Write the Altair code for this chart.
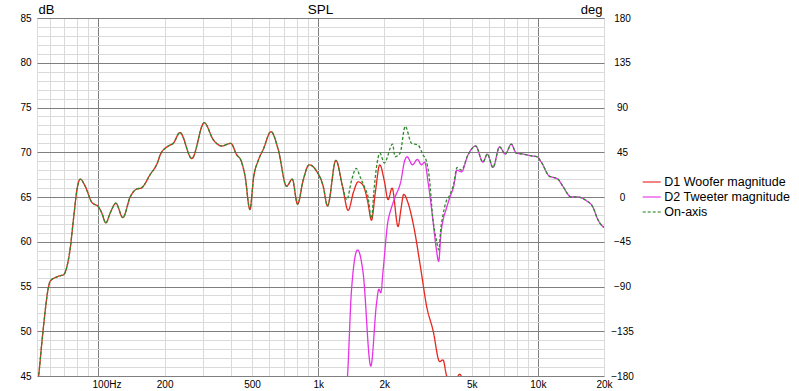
import altair as alt
import pandas as pd

# ---- data (frequency in Hz, level in dB) ----
woofer_freq = [52.5, 53.4, 55.9, 59.3, 60.3, 63.6, 66.9, 69.3, 71.8, 74.4, 77.0, 79.8, 82.6, 87.0,
               93.3, 100, 103.6, 108.0, 113.0, 120.0, 129.1, 139.4, 149.5, 156.4, 171.8, 187.4,
               190.8, 208, 219, 235, 266, 303, 333, 364, 400, 426, 445, 465, 489, 509, 534, 562,
               610, 658, 718, 762, 806, 855, 910, 983, 1054, 1103, 1204, 1290, 1369, 1450, 1520,
               1602, 1680, 1749, 1820, 1908, 2000, 2081, 2170, 2310, 2380, 2452, 2560, 2703, 2951,
               3110, 3333, 3575, 3700, 3834, 4100, 4400, 4700]
woofer_db = [43.5, 45.0, 50.0, 55.0, 55.6, 56.0, 56.2, 56.3, 57.2, 59.3, 62.6, 65.8, 67.0, 66.2,
             64.4, 63.9, 63.2, 62.1, 63.2, 64.3, 62.7, 65.0, 65.9, 66.0, 67.5, 69.1,
             69.7, 70.7, 71.0, 72.2, 69.3, 73.3, 71.4, 70.7, 71.0, 69.7, 69.1, 67.3, 63.6, 67.3, 69.1, 70.3,
             72.3, 70.3, 66.2, 67.0, 64.2, 66.9, 68.6, 67.9, 66.2, 64.0, 69.1, 66.2, 63.5, 65.6, 66.7,
             66.3, 64.5, 62.4, 65.5, 68.6, 66.8, 64.7, 66.0, 61.7, 63.6, 65.3, 64.4, 62.1, 56.5,
             52.9, 50.1, 46.6, 46.8, 45.1, 43.5, 45.2, 43.0]

tweeter_freq = [1330, 1360, 1418, 1511, 1602, 1736, 1843, 1888, 1928, 1975, 2081, 2120, 2232, 2376,
                2479, 2539, 2686, 2830, 2951, 3055, 3162, 3333, 3440, 3537, 3620, 3700, 3820, 3967,
                4139, 4283, 4486, 4807, 5211, 5623, 5888, 6245, 6696, 7108, 7570, 7978, 8548,
                9333, 9897, 10364, 11305, 11703, 12332, 12989, 14185, 15199, 16596, 17783, 18738,
                19750, 20000]
tweeter_db = [42.0, 45.0, 54.6, 59.1, 56.5, 46.1, 53.1, 54.7, 54.3, 56.8, 62.4, 63.2, 64.9, 66.7,
              69.1, 69.5, 68.6, 69.2, 68.6, 68.9, 66.7, 62.3, 59.4, 57.8, 60.9, 62.4, 63.6, 64.9,
              66.2, 68.0, 67.8, 69.7, 70.7, 68.9, 69.8, 68.3, 70.6, 69.8, 70.9, 69.9, 69.8,
              69.6, 69.5, 68.9, 67.3, 67.2, 67.0, 66.2, 65.0, 65.0, 64.6, 63.9, 62.5,
              61.7, 61.6]

onaxis_freq = [1350, 1420, 1490, 1550, 1630, 1680, 1750, 1790, 1840, 1910, 2000, 2180, 2240, 2360,
               2490, 2660, 2850, 3000, 3100, 3200, 3333, 3450, 3540, 3620, 3700, 3800, 3970, 4140,
               4290, 4486]
onaxis_db = [64.7, 66.9, 68.2, 67.3, 66.0, 65.2, 62.6, 65.4, 68.2, 69.9, 68.8, 70.9, 69.5, 69.9,
             72.9, 71.0, 70.8, 69.7, 69.1, 67.3, 62.4, 60.2, 59.1, 61.6, 63.0, 64.3, 65.2, 66.5,
             68.3, 68.0]

series_names = ["D1 Woofer magnitude", "D2 Tweeter magnitude", "On-axis"]
series_colors = ["#e8261e", "#e633e6", "#2e8b2e"]

x_labels = {100: "100Hz", 200: "200", 500: "500", 1000: "1k", 2000: "2k",
            5000: "5k", 10000: "10k", 20000: "20k"}
x_grid = [60, 70, 80, 90, 100, 200, 300, 400, 500, 600, 700, 800, 900,
          1000, 2000, 3000, 4000, 5000, 6000, 7000, 8000, 9000, 10000, 20000]

# ---- build table ----
rows = []
for f, v in zip(woofer_freq, woofer_db):
    rows.append({"freq": f, "db": v, "series": series_names[0]})
for f, v in zip(tweeter_freq, tweeter_db):
    rows.append({"freq": f, "db": v, "series": series_names[1]})
# on-axis equals the woofer below ~1.3 kHz and the tweeter above ~4.5 kHz
for f, v in zip(woofer_freq, woofer_db):
    if f <= 1290:
        rows.append({"freq": f, "db": v, "series": series_names[2]})
for f, v in zip(onaxis_freq, onaxis_db):
    rows.append({"freq": f, "db": v, "series": series_names[2]})
for f, v in zip(tweeter_freq, tweeter_db):
    if f >= 4807:
        rows.append({"freq": f, "db": v, "series": series_names[2]})
df = pd.DataFrame(rows)

label_expr = " : ".join(f"datum.value == {k} ? '{v}'" for k, v in x_labels.items()) + " : ''"

FONT = "Liberation Sans"
DARK = "#7f7f7f"
LIGHT = "#dadada"

legend = alt.Legend(title=None, orient="none", legendX=607.7, legendY=157,
                    symbolType="M-1.5,0H1.5", symbolSize=144, symbolStrokeWidth=1.6,
                    symbolOpacity=0.75,
                    labelFont=FONT, labelFontSize=12.5, labelColor="#000000",
                    labelOffset=5.6, rowPadding=1, padding=0)

lines = alt.Chart(df).mark_line(clip=True, strokeWidth=1.3, interpolate="monotone").encode(
    x=alt.X("freq:Q",
            scale=alt.Scale(type="log", domain=[52.5, 20000], nice=False),
            axis=alt.Axis(values=x_grid, labelExpr=label_expr, title=None, ticks=False,
                          domain=False, labelFlush=False, labelOverlap=False, labelPadding=3,
                          labelOffset={"condition": {"test": "datum.value == 100", "value": 8},
                                       "value": 0},
                          gridColor={"condition": {"test": "datum.value == 100 || datum.value == 1000 || datum.value == 10000",
                                                   "value": DARK}, "value": LIGHT})),
    y=alt.Y("db:Q",
            scale=alt.Scale(domain=[45, 85], nice=False, zero=False),
            axis=alt.Axis(values=list(range(45, 86)),
                          labelExpr="datum.value % 5 === 0 ? datum.label : ''",
                          ticks=False, domain=False, labelPadding=6,
                          title="dB", titleAngle=0, titleX=1, titleY=-8.5,
                          titleAlign="left", titleBaseline="middle",
                          titleFontWeight="normal", titleFont=FONT, titleFontSize=13,
                          gridColor={"condition": {"test": "datum.value % 5 === 0", "value": DARK},
                                     "value": LIGHT})),
    color=alt.Color("series:N", scale=alt.Scale(domain=series_names, range=series_colors),
                    legend=legend),
    strokeDash=alt.StrokeDash("series:N",
                              scale=alt.Scale(domain=series_names, range=[[1, 0], [1, 0], [3, 2]]),
                              legend=legend),
)

deg_df = pd.DataFrame({"deg": [-180, 180]})
right_axis = alt.Chart(deg_df).mark_point(opacity=0).encode(
    y=alt.Y("deg:Q", scale=alt.Scale(domain=[-180, 180], nice=False, zero=False),
            axis=alt.Axis(orient="right", values=list(range(-180, 181, 45)), grid=False,
                          ticks=False, domain=False, labelAlign="center", labelPadding=18,
                          title="deg", titleAngle=0, titleX=-2, titleY=-8.5,
                          titleAlign="right", titleBaseline="middle",
                          titleFontWeight="normal", titleFont=FONT, titleFontSize=13))
)

chart = alt.layer(lines, right_axis).resolve_scale(y="independent").properties(
    width=567, height=358,
    title=alt.TitleParams("SPL", font=FONT, fontSize=13.5, fontWeight="normal",
                          anchor="middle", offset=1, dy=14, color="#000000"),
    autosize=alt.AutoSizeParams(type="none"),
    padding={"left": 37, "top": 18, "right": 195, "bottom": 15},
).configure_view(stroke=DARK, strokeWidth=1).configure_axis(
    labelFont=FONT, labelFontSize=12.5, labelColor="#000000",
    titleFont=FONT, titleFontSize=13, titleFontWeight="normal", titleColor="#000000",
    gridWidth=1, gridOpacity=1
).configure(background="white")

chart.save("out.html", embed_options={"renderer": "svg", "actions": False})
